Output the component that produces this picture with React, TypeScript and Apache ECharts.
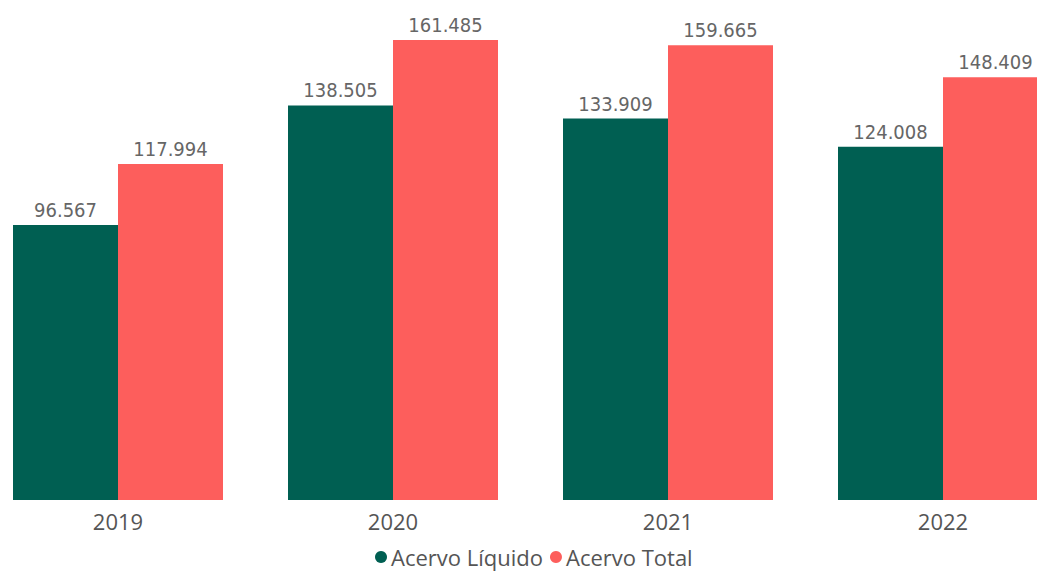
import React, { useEffect, useRef } from "react";
import * as echarts from "echarts";

const categories = ["2019", "2020", "2021", "2022"];
const acervoLiquido = [96567, 138505, 133909, 124008];
const acervoTotal = [117994, 161485, 159665, 148409];
const seriesNames = ["Acervo Líquido", "Acervo Total"];

const fmt = (v: number) => {
  const s = Math.round(v).toString();
  return s.replace(/\B(?=(\d{3})+(?!\d))/g, ".");
};

const OFFSET = 20;

export default function App() {
  const ref = useRef<HTMLDivElement>(null);
  useEffect(() => {
    if (!ref.current) return;
    const chart = echarts.init(ref.current, undefined, { renderer: "svg" });
    const labelStyle = {
      show: true,
      position: "top" as const,
      distance: 5,
      fontFamily: "DejaVu Sans Condensed",
      fontSize: 20,
      color: "#666666",
      formatter: (p: any) => fmt(p.value),
    };
    chart.setOption({
      animation: false,
      backgroundColor: "#ffffff",
      grid: { left: 0.5, width: 1100, top: 40, bottom: 73, containLabel: false },
      legend: {
        bottom: 5,
        left: 375 + OFFSET,
        padding: 0,
        icon: "circle",
        itemWidth: 12,
        itemHeight: 12,
        itemGap: 7,
        textStyle: {
          fontFamily: "Open Sans",
          fontSize: 22,
          lineHeight: 22,
          color: "#555555",
          padding: [0, 0, 0, -1],
        },
        data: seriesNames,
      },
      xAxis: {
        type: "category",
        data: categories,
        axisLine: { show: false },
        axisTick: { show: false },
        axisLabel: {
          margin: 10,
          fontFamily: "Open Sans",
          fontSize: 22,
          color: "#555555",
        },
      },
      yAxis: {
        type: "value",
        min: 0,
        max: "dataMax",
        show: false,
        splitLine: { show: false },
      },
      series: [
        {
          name: seriesNames[0],
          type: "bar",
          data: acervoLiquido,
          barWidth: 105,
          barGap: "0%",
          itemStyle: { color: "#005F52" },
          label: labelStyle,
        },
        {
          name: seriesNames[1],
          type: "bar",
          data: acervoTotal,
          barWidth: 105,
          barGap: "0%",
          itemStyle: { color: "#FD5E5C" },
          label: labelStyle,
        },
      ],
    });
    return () => chart.dispose();
  }, []);
  return (
    <div
      ref={ref}
      style={{ position: "fixed", left: -OFFSET, top: 0, width: 1101, height: 573 }}
    />
  );
}
